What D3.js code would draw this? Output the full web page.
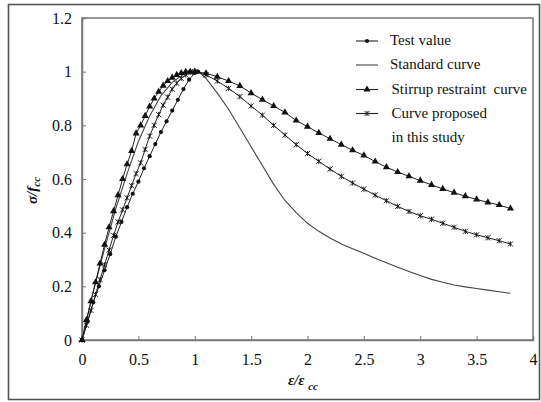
<!DOCTYPE html>
<html><head><meta charset="utf-8">
<script src="https://cdn.jsdelivr.net/npm/d3@7"></script>
<style>body{margin:0;background:#fff}svg{display:block}</style>
</head><body>
<svg id="c" width="541" height="402"></svg>
<script>
const xTicks = [0, 0.5, 1, 1.5, 2, 2.5, 3, 3.5, 4];
const yTicks = [0, 0.2, 0.4, 0.6, 0.8, 1, 1.2];

const testX = [0,0.05,0.1,0.15,0.2,0.25,0.3,0.35,0.4,0.45,0.5,0.55,0.6,0.65,0.7,0.75,0.8,0.85,0.9,0.95,1.0,1.03];
const testY = [0,0.07,0.14,0.2,0.26,0.32,0.385,0.44,0.495,0.545,0.59,0.64,0.685,0.73,0.775,0.815,0.855,0.895,0.935,0.97,0.995,1.0];

const stdX = [0,0.1,0.2,0.3,0.4,0.5,0.6,0.7,0.8,0.9,1.0,1.05,1.1,1.2,1.3,1.4,1.5,1.6,1.7,1.8,1.9,2.0,2.1,2.2,2.3,2.4,2.5,2.6,2.7,2.8,2.9,3.0,3.1,3.2,3.3,3.4,3.5,3.6,3.7,3.8];
const stdY = [0,0.18,0.34,0.49,0.62,0.74,0.835,0.91,0.96,0.99,1.0,0.995,0.975,0.92,0.86,0.79,0.72,0.65,0.58,0.52,0.475,0.435,0.405,0.38,0.358,0.34,0.323,0.305,0.288,0.271,0.255,0.24,0.226,0.215,0.205,0.198,0.192,0.186,0.18,0.174];

const stirX = [0,0.04,0.08,0.12,0.16,0.2,0.24,0.28,0.32,0.36,0.4,0.44,0.48,0.52,0.56,0.6,0.64,0.68,0.72,0.76,0.8,0.84,0.88,0.92,0.96,1.0,1.1,1.2,1.3,1.4,1.5,1.6,1.7,1.8,1.9,2.0,2.1,2.2,2.3,2.4,2.5,2.6,2.7,2.8,2.9,3.0,3.1,3.2,3.3,3.4,3.5,3.6,3.7,3.8];
const stirY = [0,0.075,0.145,0.215,0.285,0.355,0.42,0.48,0.54,0.6,0.655,0.705,0.77,0.8,0.835,0.87,0.9,0.925,0.948,0.965,0.978,0.988,0.995,0.999,1.0,1.0,0.994,0.981,0.965,0.947,0.92,0.896,0.872,0.848,0.818,0.795,0.772,0.75,0.728,0.707,0.688,0.665,0.644,0.626,0.61,0.594,0.578,0.563,0.549,0.536,0.524,0.513,0.503,0.49];

const propX = [0,0.04,0.08,0.12,0.16,0.2,0.24,0.28,0.32,0.36,0.4,0.44,0.48,0.52,0.56,0.6,0.64,0.68,0.72,0.76,0.8,0.84,0.88,0.92,0.96,1.0,1.1,1.2,1.3,1.4,1.5,1.6,1.7,1.8,1.9,2.0,2.1,2.2,2.3,2.4,2.5,2.6,2.7,2.8,2.9,3.0,3.1,3.2,3.3,3.4,3.5,3.6,3.7,3.8];
const propY = [0,0.055,0.11,0.17,0.225,0.28,0.335,0.39,0.44,0.485,0.53,0.575,0.62,0.66,0.71,0.76,0.8,0.84,0.875,0.905,0.935,0.957,0.975,0.988,0.997,1.0,0.988,0.965,0.938,0.907,0.872,0.838,0.8,0.764,0.728,0.695,0.666,0.637,0.61,0.585,0.562,0.54,0.519,0.498,0.479,0.463,0.45,0.435,0.42,0.405,0.392,0.381,0.37,0.358];

const legendLabels = ["Test value", "Standard curve", "Stirrup restraint  curve", "Curve proposed"];

const FONT = '"Liberation Serif", "DejaVu Serif", serif';
const svg = d3.select("#c").style("font-family", FONT);
const L = 82, R = 533, T = 18, B = 340;
const x = d3.scaleLinear().domain([0, 4]).range([L, R]);
const y = d3.scaleLinear().domain([0, 1.2]).range([B, T]);

svg.append("rect").attr("x", 8.5).attr("y", 4.5).attr("width", 531).attr("height", 395)
  .attr("fill", "none").attr("stroke", "#555").attr("stroke-width", 1.6);
svg.append("rect").attr("x", L).attr("y", T).attr("width", R - L).attr("height", B - T)
  .attr("fill", "none").attr("stroke", "#777").attr("stroke-width", 1.5);

const gx = svg.append("g").attr("transform", `translate(0,${B})`)
  .call(d3.axisBottom(x).tickValues(xTicks).tickSize(-4).tickPadding(14).tickFormat(d3.format("")));
const gy = svg.append("g").attr("transform", `translate(${L},0)`)
  .call(d3.axisLeft(y).tickValues(yTicks).tickSize(-4).tickPadding(10).tickFormat(d3.format("")));
[gx, gy].forEach(g => {
  g.attr("font-family", null).style("font-family", FONT);
  g.select(".domain").attr("stroke", "#777").attr("stroke-width", 1.5);
  g.selectAll(".tick line").attr("stroke", "#777");
  g.selectAll(".tick text").attr("font-size", 16).attr("fill", "#111").style("font-family", FONT);
});

const line = d3.line().x(d => x(d[0])).y(d => y(d[1]));
const zip = (a, b) => a.map((v, i) => [v, b[i]]);
const stdData = zip(stdX, stdY), stirData = zip(stirX, stirY), propData = zip(propX, propY), testData = zip(testX, testY);

svg.append("path").datum(stdData).attr("d", line).attr("fill", "none").attr("stroke", "#444").attr("stroke-width", 1.1);
svg.append("path").datum(stirData).attr("d", line).attr("fill", "none").attr("stroke", "#222").attr("stroke-width", 1);
svg.append("path").datum(propData).attr("d", line).attr("fill", "none").attr("stroke", "#222").attr("stroke-width", 1);
svg.append("path").datum(testData).attr("d", line).attr("fill", "none").attr("stroke", "#222").attr("stroke-width", 1);

const tri = d3.symbol().type(d3.symbolTriangle).size(22);
const star = (g, cx, cy) => {
  const s = 2.6;
  g.append("path").attr("d", `M${cx - s},${cy - s}L${cx + s},${cy + s}M${cx - s},${cy + s}L${cx + s},${cy - s}M${cx},${cy - s}L${cx},${cy + s}`)
    .attr("stroke", "#111").attr("stroke-width", 0.9).attr("fill", "none");
};

const mk = svg.append("g");
stirData.forEach(d => mk.append("path").attr("d", tri).attr("transform", `translate(${x(d[0])},${y(d[1])})`).attr("fill", "#111"));
propData.forEach(d => star(mk, x(d[0]), y(d[1])));
testData.forEach(d => mk.append("circle").attr("cx", x(d[0])).attr("cy", y(d[1])).attr("r", 2.1).attr("fill", "#111"));

const lg = svg.append("g");
const ly = [41, 65, 89.5, 113.5];
const lb = [45, 69, 94, 118];
ly.forEach((yy, i) => {
  lg.append("line").attr("x1", 356).attr("x2", 378).attr("y1", yy).attr("y2", yy)
    .attr("stroke", i === 1 ? "#444" : "#222").attr("stroke-width", 1.1);
  lg.append("text").attr("x", i >= 2 ? 391.5 : 390).attr("y", lb[i]).attr("font-size", 15)
    .attr("fill", "#111").style("font-family", FONT).style("white-space", "pre").text(legendLabels[i]);
});
lg.append("circle").attr("cx", 367).attr("cy", ly[0]).attr("r", 2.1).attr("fill", "#111");
lg.append("path").attr("d", tri).attr("transform", `translate(367,${ly[2]})`).attr("fill", "#111");
star(lg, 367, ly[3]);
lg.append("text").attr("x", 391.5).attr("y", 142).attr("font-size", 15).style("font-family", FONT).attr("fill", "#111").text("in this study");

const xt = svg.append("text").attr("x", 288).attr("y", 385).attr("font-size", 15).style("font-family", FONT)
  .attr("font-weight", "bold").attr("font-style", "italic").attr("fill", "#111");
xt.append("tspan").text("ε/ε ");
xt.append("tspan").attr("dy", 5).attr("font-size", 11).text("cc");

const yt = svg.append("text").attr("transform", "translate(37,204) rotate(-90)").attr("font-size", 15).style("font-family", FONT)
  .attr("font-weight", "bold").attr("font-style", "italic").attr("fill", "#111");
yt.append("tspan").text("σ/f");
yt.append("tspan").attr("dy", 3).attr("font-size", 11).text("cc");
</script>
</body></html>
